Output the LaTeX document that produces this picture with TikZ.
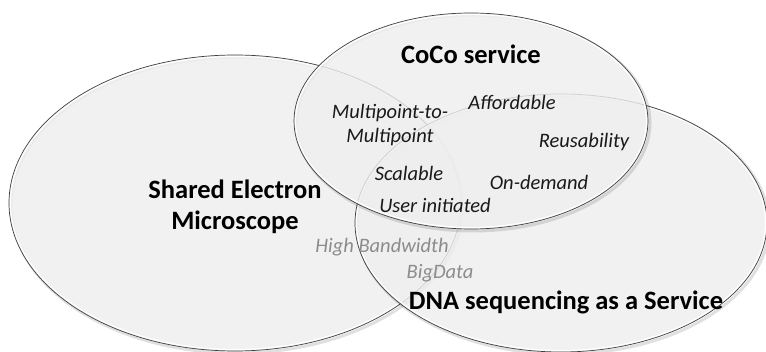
\documentclass[tikz,border=0pt]{standalone}
\usepackage{fontspec}
\setmainfont{Carlito}
\begin{document}
\begin{tikzpicture}[x=1pt,y=-1pt,
  setfill/.style={fill=gray!13, fill opacity=0.82},
  setline/.style={draw=black!75, line width=0.7pt},
  rim/.style={draw=white, line width=1.2pt},
  shade/.style={draw=black, draw opacity=0.12, line width=3pt},
  title/.style={font=\fontsize{26.5}{31}\selectfont\bfseries, align=center, text=black},
  trait/.style={font=\fontsize{20.5}{24}\selectfont\itshape, align=center, text=black!90},
  weak/.style={font=\fontsize{20.5}{24}\selectfont\itshape, align=center, text=black!45}]
\useasboundingbox (0,0) rectangle (766,352);

% Shared Electron Microscope
\draw[shade] (237,205) ellipse [x radius=226, y radius=148];
\fill[setfill] (235,203) ellipse [x radius=226, y radius=148];
\draw[rim] (235,203) ellipse [x radius=224.5, y radius=146.5];
\draw[setline] (235,203) ellipse [x radius=226, y radius=148];

% DNA sequencing as a Service
\draw[shade] (563,225) ellipse [x radius=206, y radius=129];
\fill[setfill] (561,223) ellipse [x radius=206, y radius=129];
\draw[rim] (561,223) ellipse [x radius=204.5, y radius=127.5];
\draw[setline] (561,223) ellipse [x radius=206, y radius=129];

% CoCo service
\draw[shade] (473,123) ellipse [x radius=177, y radius=108];
\fill[setfill] (471,121) ellipse [x radius=177, y radius=108];
\draw[rim] (471,121) ellipse [x radius=175.5, y radius=106.5];
\draw[setline] (471,121) ellipse [x radius=177, y radius=108];

% set names
\node[title] (sem) at (235,207) {Shared Electron\\Microscope};
\node[title] (coco) at (471,54) {CoCo service};
\node[title] (dna) at (566,302) {DNA sequencing as a Service};

% properties
\node[trait] (mpmp) at (390,125) {Multipoint-to-\\Multipoint};
\node[trait] (aff) at (512,102) {Affordable};
\node[trait] (reu) at (584,142) {Reusability};
\node[trait] (sca) at (409,173) {Scalable};
\node[trait] (ond) at (539,182) {On-demand};
\node[trait] (usr) at (435,205) {User initiated};
\node[weak] (hbw) at (382,247) {High Bandwidth};
\node[weak] (big) at (440,273) {BigData};
\end{tikzpicture}
\end{document}
